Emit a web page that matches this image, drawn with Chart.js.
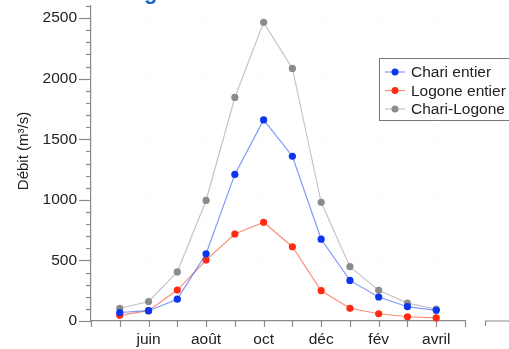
<!DOCTYPE html>
<html>
<head>
<meta charset="utf-8">
<script src="https://cdn.jsdelivr.net/npm/chart.js@4"></script>
<style>
  html, body { margin: 0; padding: 0; background: #fff; }
  #wrap { width: 509px; height: 349px; }
</style>
</head>
<body>
<div id="wrap"><canvas id="debitChart" width="509" height="349"></canvas></div>
<script>
// mois de mai à avril
const mois = ["mai", "juin", "juil", "août", "sept", "oct", "nov", "déc", "janv", "fév", "mars", "avril"];
const moisAffiches = ["juin", "août", "oct", "déc", "fév", "avril"];

// débits mensuels (m3/s)
const chariEntier = [70, 85, 180, 555, 1210, 1660, 1360, 675, 335, 198, 118, 88];
const logoneEntier = [47, 85, 255, 503, 718, 815, 613, 250, 105, 60, 35, 25];
const chariLogone = [105, 160, 405, 995, 1845, 2465, 2085, 980, 448, 253, 148, 98];

const yTicksMajeurs = [0, 500, 1000, 1500, 2000, 2500];

const police = "'Liberation Sans', Arial, sans-serif";

function serie(valeurs) {
    return valeurs.map((v, i) => ({ x: i, y: v }));
}

// ticks, titre de l'axe, légende et le reste du dessin
const decor = {
    id: "decor",
    afterDraw(chart) {
        const ctx = chart.ctx;
        const xs = chart.scales.x;
        const ys = chart.scales.y;
        const area = chart.chartArea;
        ctx.save();
        ctx.strokeStyle = "#8a8a8a";
        ctx.lineWidth = 1.2;

        // ticks y (mineurs tous les 100)
        for (let v = 0; v <= 2600; v += 100) {
            const y = Math.round(ys.getPixelForValue(v)) + 0.5;
            const len = yTicksMajeurs.includes(v) ? 12 : 5;
            ctx.beginPath();
            ctx.moveTo(area.left - len, y);
            ctx.lineTo(area.left, y);
            ctx.stroke();
        }
        // ticks x
        for (let i = -1; i <= 12; i++) {
            const x = Math.round(xs.getPixelForValue(i)) + 0.5;
            ctx.beginPath();
            ctx.moveTo(x, area.bottom);
            ctx.lineTo(x, area.bottom + 6);
            ctx.stroke();
        }
        // bout d'axe du panneau voisin
        ctx.beginPath();
        ctx.moveTo(485.5, area.bottom + 5);
        ctx.lineTo(485.5, area.bottom);
        ctx.lineTo(509, area.bottom);
        ctx.stroke();

        // titre de l'axe y
        ctx.fillStyle = "#222";
        ctx.font = "15px " + police;
        ctx.textAlign = "center";
        ctx.textBaseline = "middle";
        ctx.translate(24, 151);
        ctx.rotate(-Math.PI / 2);
        ctx.fillText("Débit (m³/s)", 0, 0);
        ctx.setTransform(1, 0, 0, 1, 0, 0);

        // titre coupé en haut
        ctx.fillStyle = "#1a66c8";
        ctx.font = "bold 22px " + police;
        ctx.textAlign = "left";
        ctx.textBaseline = "alphabetic";
        ctx.fillText("g", 144, -1.5);

        // légende
        ctx.fillStyle = "#fff";
        ctx.fillRect(379.5, 58.5, 140, 62);
        ctx.strokeStyle = "#777";
        ctx.lineWidth = 1;
        ctx.strokeRect(379.5, 58.5, 140, 62);
        ctx.font = "15.5px " + police;
        ctx.textBaseline = "middle";
        chart.data.datasets.forEach((ds, k) => {
            const y = 72 + k * 18.5;
            ctx.strokeStyle = ds.borderColor;
            ctx.lineWidth = 1.2;
            ctx.beginPath();
            ctx.moveTo(385, y);
            ctx.lineTo(405, y);
            ctx.stroke();
            ctx.fillStyle = ds.pointBackgroundColor;
            ctx.beginPath();
            ctx.arc(395, y, 3.5, 0, Math.PI * 2);
            ctx.fill();
            ctx.fillStyle = "#222";
            ctx.fillText(ds.label, 411, y + 1);
        });
        ctx.restore();
    }
};

const ctx = document.getElementById("debitChart").getContext("2d");
const debitChart = new Chart(ctx, {
    type: "line",
    data: {
        datasets: [
            {
                label: "Chari entier",
                data: serie(chariEntier),
                borderColor: "rgba(60,100,245,0.65)",
                pointBackgroundColor: "#0b35f2",
                pointBorderColor: "#0b35f2"
            },
            {
                label: "Logone entier",
                data: serie(logoneEntier),
                borderColor: "rgba(250,95,70,0.7)",
                pointBackgroundColor: "#ff2a10",
                pointBorderColor: "#ff2a10"
            },
            {
                label: "Chari-Logone",
                data: serie(chariLogone),
                borderColor: "#c6c6c6",
                pointBackgroundColor: "#8c8c8c",
                pointBorderColor: "#8c8c8c"
            }
        ]
    },
    options: {
        responsive: false,
        animation: false,
        devicePixelRatio: 1,
        clip: false,
        elements: {
            line: { borderWidth: 1.2, tension: 0 },
            point: { radius: 3.6, borderWidth: 0 }
        },
        layout: { padding: { top: 6, right: 44, left: 0, bottom: 0 } },
        plugins: {
            legend: { display: false },
            tooltip: { enabled: false }
        },
        scales: {
            x: {
                type: "linear",
                min: -1,
                max: 12,
                afterFit: (s) => { s.height = 28; s.paddingLeft = 0; s.paddingRight = 0; },
                border: { color: "#8a8a8a", width: 1.2, dash: [1, 3] },
                grid: {
                    drawTicks: false,
                    color: (c) => moisAffiches.includes(mois[c.tick.value]) ? "rgba(0,0,0,0.05)" : "transparent"
                },
                ticks: {
                    stepSize: 1,
                    autoSkip: false,
                    maxRotation: 0,
                    padding: 9,
                    color: "#222",
                    font: { family: police, size: 15.5 },
                    callback: (v) => moisAffiches.includes(mois[v]) ? mois[v] : ""
                }
            },
            y: {
                min: 0,
                max: 2600,
                afterFit: (s) => { s.width = 91; s.paddingTop = 0; s.paddingBottom = 0; },
                border: { color: "#8a8a8a", width: 1.2, dash: [1, 3] },
                grid: {
                    drawTicks: false,
                    color: (c) => (c.tick.value > 0 && yTicksMajeurs.includes(c.tick.value)) ? "rgba(0,0,0,0.05)" : "transparent"
                },
                ticks: {
                    stepSize: 100,
                    autoSkip: false,
                    padding: 14,
                    color: "#222",
                    font: { family: police, size: 15.5 },
                    callback: (v) => yTicksMajeurs.includes(v) ? String(v) : ""
                }
            }
        }
    },
    plugins: [decor]
});
</script>
</body>
</html>
